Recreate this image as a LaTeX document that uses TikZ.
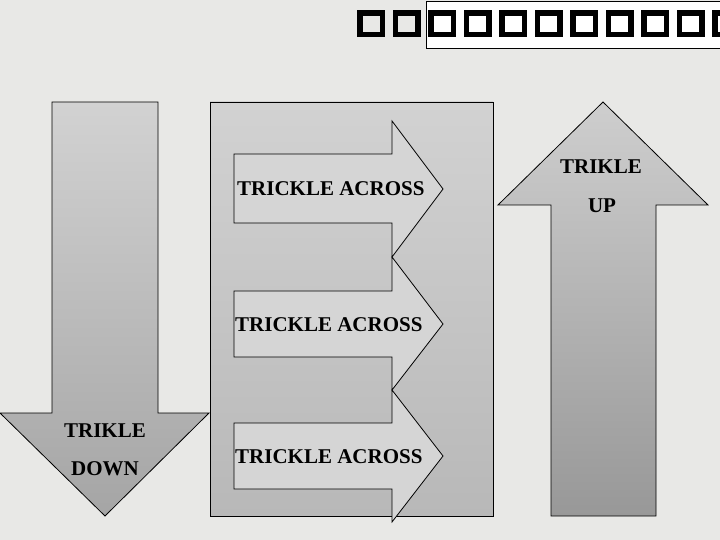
\documentclass[tikz,border=0pt]{standalone}
\usepackage{fontspec}
\setmainfont{Liberation Serif}
\definecolor{bgc}{RGB}{232,232,230}
\definecolor{ltop}{RGB}{210,210,210}
\definecolor{lbot}{RGB}{165,165,165}
\definecolor{rtop}{RGB}{206,206,206}
\definecolor{rbot}{RGB}{152,152,152}
\definecolor{mtop}{RGB}{210,210,210}
\definecolor{mbot}{RGB}{184,184,184}
\definecolor{afill}{RGB}{213,213,213}
\tikzset{
  outl/.style={draw=black, line width=0.8pt, line join=miter},
  lbl/.style={font=\fontsize{21}{24}\selectfont\bfseries, inner sep=0pt},
  tofu/.style={draw=black, line width=5.5pt, line join=miter},
}
\begin{document}
\begin{tikzpicture}[x=1pt,y=-1pt]
\useasboundingbox (0,0) rectangle (720,540);
\fill[bgc] (0,0) rectangle (720,540);
% title
\draw[fill=white, line width=0.8pt] (426,1) rectangle (725,48);
\foreach \i in {0,...,10} {
  \draw[tofu] ({360+35.5*\i},13) rectangle ({382.5+35.5*\i},34.5);
}
% left arrow (down)
\draw[outl, top color=ltop, bottom color=lbot]
  (52,102) -- (158,102) -- (158,413) -- (209,413) -- (105,516) -- (0,413) -- (52,413) -- cycle;
\node[lbl] (tdown1) at (105,431) {TRIKLE};
\node[lbl] (tdown2) at (105,469) {DOWN};
% middle box
\draw[outl, top color=mtop, bottom color=mbot] (210,102) rectangle (493,516);
% across arrows
\draw[outl, fill=afill]
  (234,154) -- (392,154) -- (392,121) -- (443,189) -- (392,257) -- (392,223) -- (234,223) -- cycle;
\draw[outl, fill=afill]
  (234,291) -- (392,291) -- (392,257) -- (443,324) -- (392,390) -- (392,357) -- (234,357) -- cycle;
\draw[outl, fill=afill]
  (234,423) -- (392,423) -- (392,390) -- (443,456) -- (392,522) -- (392,489) -- (234,489) -- cycle;
\node[lbl, anchor=west] (ta1) at (237,189) {TRICKLE ACROSS};
\node[lbl, anchor=west] (ta2) at (235,325) {TRICKLE ACROSS};
\node[lbl, anchor=west] (ta3) at (235,457) {TRICKLE ACROSS};
% right arrow (up)
\draw[outl, top color=rtop, bottom color=rbot]
  (603,102) -- (708,205) -- (656,205) -- (656,516) -- (551,516) -- (551,205) -- (498,205) -- cycle;
\node[lbl] (tup1) at (601,167) {TRIKLE};
\node[lbl] (tup2) at (602,206) {UP};
\end{tikzpicture}
\end{document}
